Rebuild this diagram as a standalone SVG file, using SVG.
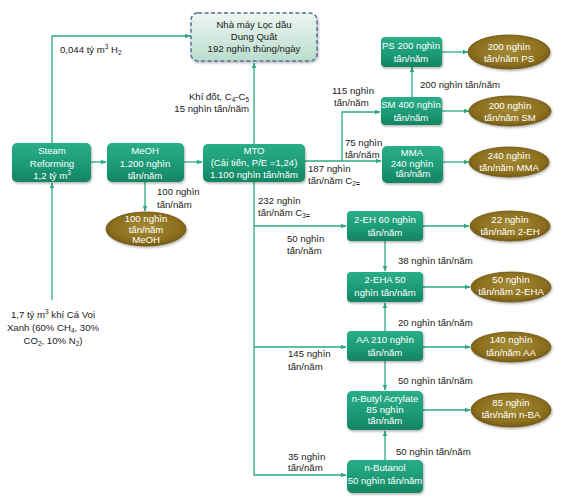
<svg xmlns="http://www.w3.org/2000/svg" width="563" height="498" viewBox="0 0 563 498">
<defs>
<linearGradient id="gBox" x1="0" y1="0" x2="0" y2="1">
<stop offset="0" stop-color="#2aae88"/>
<stop offset="0.5" stop-color="#1d9d78"/>
<stop offset="1" stop-color="#148462"/>
</linearGradient>
<linearGradient id="gTop" x1="0" y1="0" x2="0" y2="1">
<stop offset="0" stop-color="#eef6f2"/>
<stop offset="1" stop-color="#b9ddcd"/>
</linearGradient>
<radialGradient id="gEll" cx="0.5" cy="0.45" r="0.6">
<stop offset="0" stop-color="#a48a35"/>
<stop offset="0.7" stop-color="#8c6f1e"/>
<stop offset="1" stop-color="#6e5312"/>
</radialGradient>
<filter id="sh" x="-10%" y="-10%" width="125%" height="135%">
<feDropShadow dx="1" dy="1.5" stdDeviation="1.2" flood-color="#000" flood-opacity="0.3"/>
</filter>
<marker id="ar" viewBox="0 0 10 10" refX="9" refY="5" markerWidth="6" markerHeight="6" orient="auto" markerUnits="userSpaceOnUse">
<path d="M0,1 L10,5 L0,9 z" fill="#2ea883"/>
</marker>
</defs>
<style>
.box{fill:url(#gBox);filter:url(#sh)}
.ell{fill:url(#gEll);stroke:#6a5010;stroke-width:0.8;filter:url(#sh)}
.bt{font-family:"Liberation Sans",Arial,sans-serif;font-size:9.6px;fill:#fff;text-anchor:middle}
.lt{font-family:"Liberation Sans",Arial,sans-serif;font-size:9.6px;fill:#1a1a1a}
.tt{font-family:"Liberation Sans",Arial,sans-serif;font-size:9.6px;fill:#1a1a1a;text-anchor:middle}
.ln{fill:none;stroke:#2ea883;stroke-width:1.3}
.sub{font-size:6.5px}
</style>
<rect width="563" height="498" fill="#fff"/>

<g id="connectors">
<polyline class="ln" points="52,143 52,36 190,36" marker-end="url(#ar)"/>
<line class="ln" x1="52" y1="300" x2="52" y2="183" marker-end="url(#ar)"/>
<line class="ln" x1="91" y1="162" x2="106" y2="162" marker-end="url(#ar)"/>
<line class="ln" x1="184" y1="162" x2="202" y2="162" marker-end="url(#ar)"/>
<line class="ln" x1="145" y1="182" x2="145" y2="211" marker-end="url(#ar)"/>
<line class="ln" x1="254" y1="144" x2="254" y2="63" marker-end="url(#ar)"/>
<line class="ln" x1="305" y1="161" x2="381" y2="161" marker-end="url(#ar)"/>
<polyline class="ln" points="342,161 342,112 380,112" marker-end="url(#ar)"/>
<line class="ln" x1="412" y1="97" x2="412" y2="67" marker-end="url(#ar)"/>
<line class="ln" x1="442" y1="52" x2="468" y2="52" marker-end="url(#ar)"/>
<line class="ln" x1="442" y1="111" x2="469" y2="111" marker-end="url(#ar)"/>
<line class="ln" x1="443" y1="162" x2="469" y2="162" marker-end="url(#ar)"/>
<polyline class="ln" points="254,182 254,475 346,475" marker-end="url(#ar)"/>
<line class="ln" x1="254" y1="226" x2="346" y2="226" marker-end="url(#ar)"/>
<line class="ln" x1="254" y1="347" x2="346" y2="347" marker-end="url(#ar)"/>
<line class="ln" x1="423" y1="226" x2="469" y2="226" marker-end="url(#ar)"/>
<line class="ln" x1="385" y1="241" x2="385" y2="271" marker-end="url(#ar)"/>
<line class="ln" x1="423" y1="287" x2="470" y2="287" marker-end="url(#ar)"/>
<line class="ln" x1="385" y1="331" x2="385" y2="303" marker-end="url(#ar)"/>
<line class="ln" x1="423" y1="347" x2="470" y2="347" marker-end="url(#ar)"/>
<line class="ln" x1="385" y1="361" x2="385" y2="390" marker-end="url(#ar)"/>
<line class="ln" x1="423" y1="410" x2="470" y2="410" marker-end="url(#ar)"/>
<line class="ln" x1="385" y1="460" x2="385" y2="431" marker-end="url(#ar)"/>
</g>

<g id="labels">
<text class="lt" x="60" y="53">0,044 tỷ m<tspan class="sub" dy="-4">3</tspan><tspan dy="4"> H</tspan><tspan class="sub" dy="2">2</tspan></text>
<text class="lt" x="249" y="100" text-anchor="end">Khí đốt, C<tspan class="sub" dy="2">4</tspan><tspan dy="-2">-C</tspan><tspan class="sub" dy="2">5</tspan></text>
<text class="lt" x="249" y="112" text-anchor="end">15 nghìn tấn/năm</text>
<text class="lt" x="157" y="195">100 nghìn</text>
<text class="lt" x="157" y="208">tấn/năm</text>
<text class="tt" x="53" y="318">1,7 tỷ m<tspan class="sub" dy="-4">3</tspan><tspan dy="4"> khí Cá Voi</tspan></text>
<text class="tt" x="53" y="331">Xanh (60% CH<tspan class="sub" dy="2">4</tspan><tspan dy="-2">, 30%</tspan></text>
<text class="tt" x="53" y="344">CO<tspan class="sub" dy="2">2</tspan><tspan dy="-2">, 10% N</tspan><tspan class="sub" dy="2">2</tspan><tspan dy="-2">)</tspan></text>
<text class="lt" x="332" y="94">115 nghìn</text>
<text class="lt" x="334" y="106">tấn/năm</text>
<text class="lt" x="420" y="88">200 nghìn tấn/năm</text>
<text class="lt" x="345" y="146">75 nghìn</text>
<text class="lt" x="345" y="158">tấn/năm</text>
<text class="lt" x="308" y="172">187 nghìn</text>
<text class="lt" x="308" y="184">tấn/năm C<tspan class="sub" dy="2">2</tspan><tspan class="sub" font-weight="bold">=</tspan></text>
<text class="lt" x="258" y="204">232 nghìn</text>
<text class="lt" x="258" y="216">tấn/năm C<tspan class="sub" dy="2">3</tspan><tspan class="sub" font-weight="bold">=</tspan></text>
<text class="lt" x="287" y="242">50 nghìn</text>
<text class="lt" x="287" y="254">tấn/năm</text>
<text class="lt" x="398" y="264">38 nghìn tấn/năm</text>
<text class="lt" x="398" y="326">20 nghìn tấn/năm</text>
<text class="lt" x="288" y="357">145 nghìn</text>
<text class="lt" x="288" y="370">tấn/năm</text>
<text class="lt" x="398" y="384">50 nghìn tấn/năm</text>
<text class="lt" x="396" y="455">50 nghìn tấn/năm</text>
<text class="lt" x="288" y="460">35 nghìn</text>
<text class="lt" x="288" y="471">tấn/năm</text>
</g>

<g id="refinery">
<rect x="191" y="13" width="126" height="48" rx="7" fill="url(#gTop)" stroke="#4f7290" stroke-width="1.5" stroke-dasharray="4,2.5" filter="url(#sh)"/>
<text class="tt" x="254" y="28">Nhà máy Lọc dầu</text>
<text class="tt" x="254" y="40">Dung Quất</text>
<text class="tt" x="254" y="52">192 nghìn thùng/ngày</text>
</g>

<g id="steam-reforming">
<rect class="box" x="12" y="143" width="79" height="39" rx="5"/>
<text class="bt" x="52" y="154">Steam</text>
<text class="bt" x="52" y="167">Reforming</text>
<text class="bt" x="52" y="179">1,2 tỷ m<tspan class="sub" dy="-4">3</tspan></text>
</g>

<g id="meoh">
<rect class="box" x="107" y="143" width="77" height="39" rx="5"/>
<text class="bt" x="145" y="154">MeOH</text>
<text class="bt" x="145" y="167">1.200 nghìn</text>
<text class="bt" x="145" y="179">tấn/năm</text>
</g>

<g id="meoh-product">
<ellipse class="ell" cx="146" cy="229" rx="40" ry="17"/>
<text class="bt" x="146" y="222">100 nghìn</text>
<text class="bt" x="146" y="232.5">tấn/năm</text>
<text class="bt" x="146" y="243">MeOH</text>
</g>

<g id="mto">
<rect class="box" x="203" y="144" width="102" height="38" rx="5"/>
<text class="bt" x="254" y="154">MTO</text>
<text class="bt" x="254" y="166">(Cải tiến, P/E =1,24)</text>
<text class="bt" x="254" y="178">1.100 nghìn tấn/năm</text>
</g>

<g id="ps">
<rect class="box" x="381" y="37" width="61" height="30" rx="4"/>
<text class="bt" x="411" y="49">PS 200 nghìn</text>
<text class="bt" x="411" y="62">tấn/năm</text>
</g>
<g id="ps-product">
<ellipse class="ell" cx="509" cy="52" rx="41" ry="17"/>
<text class="bt" x="509" y="50">200 nghìn</text>
<text class="bt" x="509" y="62">tấn/năm PS</text>
</g>

<g id="sm">
<rect class="box" x="381" y="97" width="61" height="28" rx="4"/>
<text class="bt" x="411" y="108">SM 400 nghìn</text>
<text class="bt" x="411" y="121">tấn/năm</text>
</g>
<g id="sm-product">
<ellipse class="ell" cx="510" cy="111" rx="41" ry="15"/>
<text class="bt" x="510" y="109">200 nghìn</text>
<text class="bt" x="510" y="121">tấn/năm SM</text>
</g>

<g id="mma">
<rect class="box" x="382" y="146" width="61" height="37" rx="5"/>
<text class="bt" x="412" y="156">MMA</text>
<text class="bt" x="412" y="167">240 nghìn</text>
<text class="bt" x="413" y="177">tấn/năm</text>
</g>
<g id="mma-product">
<ellipse class="ell" cx="509" cy="162" rx="40" ry="15"/>
<text class="bt" x="509" y="159">240 nghìn</text>
<text class="bt" x="509" y="171">tấn/năm MMA</text>
</g>

<g id="eh">
<rect class="box" x="347" y="211" width="76" height="30" rx="4"/>
<text class="bt" x="385" y="223">2-EH 60 nghìn</text>
<text class="bt" x="385" y="236">tấn/năm</text>
</g>
<g id="eh-product">
<ellipse class="ell" cx="510" cy="226" rx="40" ry="15"/>
<text class="bt" x="510" y="223">22 nghìn</text>
<text class="bt" x="510" y="235">tấn/năm 2-EH</text>
</g>

<g id="eha">
<rect class="box" x="347" y="272" width="76" height="30" rx="4"/>
<text class="bt" x="385" y="283">2-EHA 50</text>
<text class="bt" x="385" y="296">nghìn tấn/năm</text>
</g>
<g id="eha-product">
<ellipse class="ell" cx="511" cy="287" rx="40" ry="15"/>
<text class="bt" x="511" y="283">50 nghìn</text>
<text class="bt" x="511" y="295">tấn/năm 2-EHA</text>
</g>

<g id="aa">
<rect class="box" x="347" y="331" width="76" height="30" rx="4"/>
<text class="bt" x="385" y="343">AA 210 nghìn</text>
<text class="bt" x="385" y="356">tấn/năm</text>
</g>
<g id="aa-product">
<ellipse class="ell" cx="511" cy="347" rx="40" ry="15"/>
<text class="bt" x="511" y="343">140 nghìn</text>
<text class="bt" x="511" y="356">tấn/năm  AA</text>
</g>

<g id="nba">
<rect class="box" x="347" y="391" width="76" height="39" rx="5"/>
<text class="bt" x="385" y="402">n-Butyl Acrylate</text>
<text class="bt" x="385" y="413">85 nghìn</text>
<text class="bt" x="385" y="424">tấn/năm</text>
</g>
<g id="nba-product">
<ellipse class="ell" cx="511" cy="410" rx="40" ry="17"/>
<text class="bt" x="511" y="406">85 nghìn</text>
<text class="bt" x="511" y="418">tấn/năm n-BA</text>
</g>

<g id="nbutanol">
<rect class="box" x="347" y="460" width="76" height="33" rx="5"/>
<text class="bt" x="385" y="471">n-Butanol</text>
<text class="bt" x="385" y="484">50 nghìn tấn/năm</text>
</g>
</svg>
